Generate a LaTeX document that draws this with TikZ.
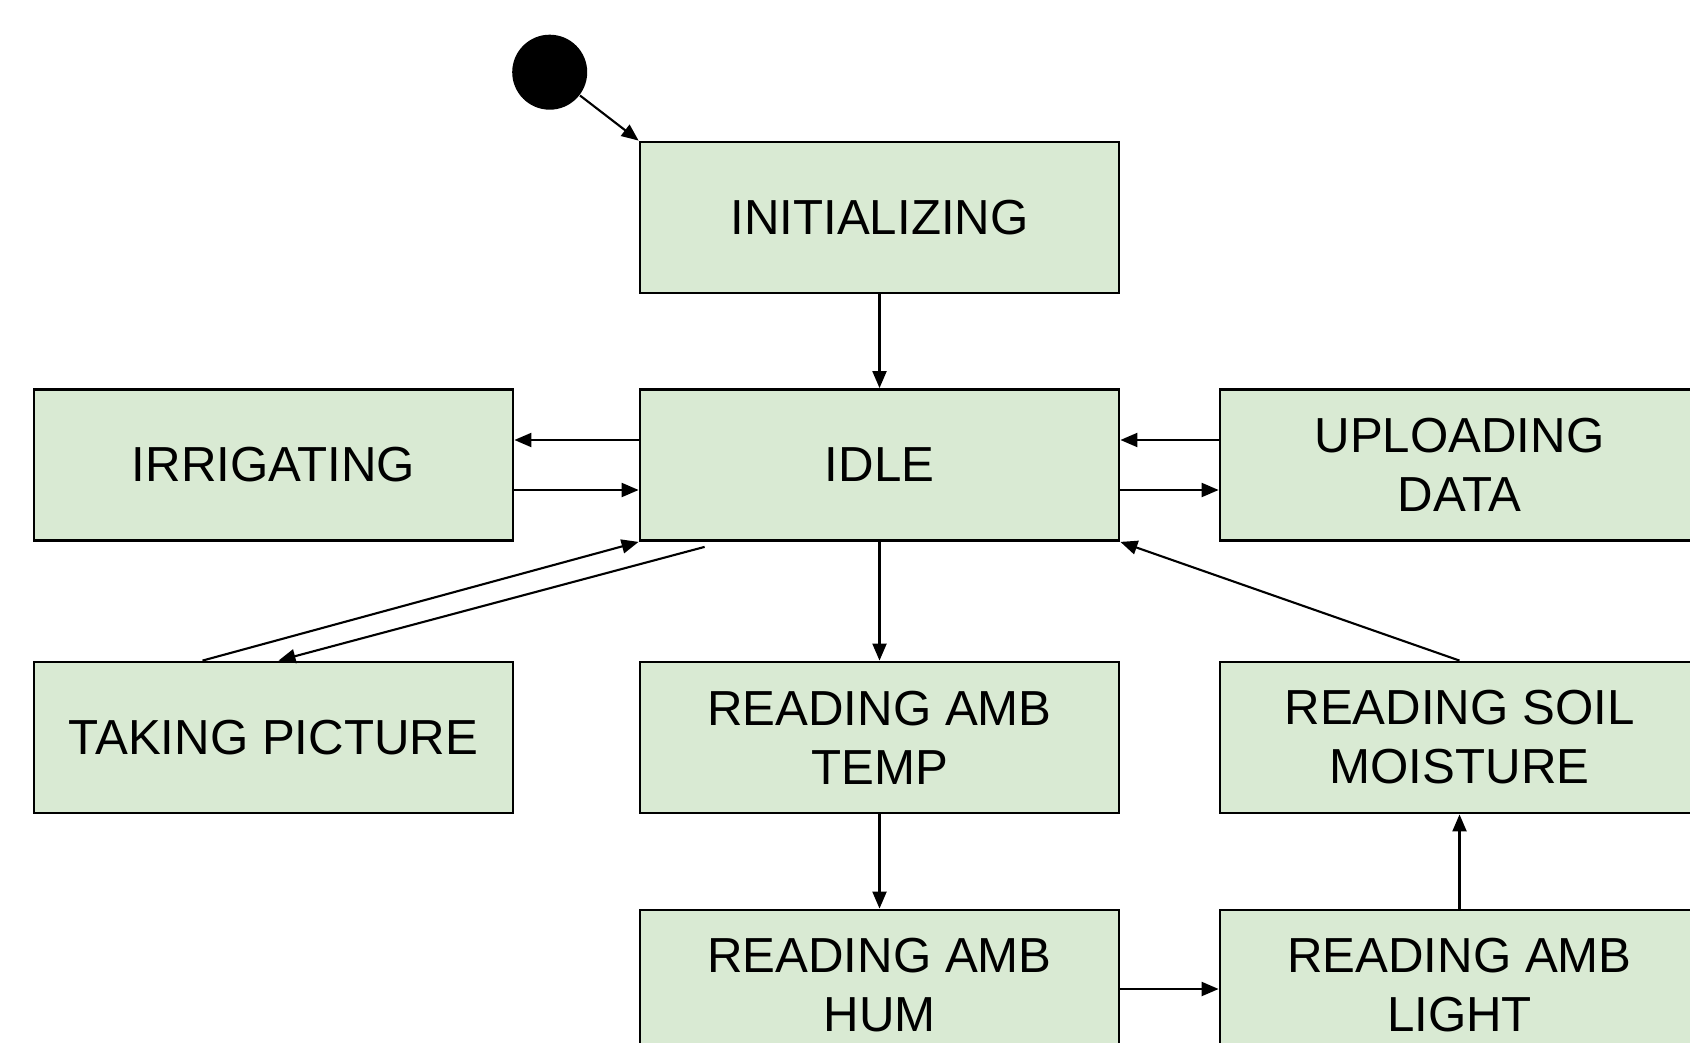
\documentclass[tikz,border=0pt]{standalone}
\usepackage{fontspec}
\setmainfont{Liberation Sans}
\usepackage{xcolor}
\usepackage{tikz}
\usetikzlibrary{arrows.meta,calc}
\definecolor{stategreen}{HTML}{D9EAD3}

\begin{document}
\begin{tikzpicture}[
    state/.style={draw, line width=0.8pt, fill=stategreen, minimum width=4.79cm, minimum height=1.51cm, inner sep=0pt, align=center, font=\fontsize{14}{16.8}\selectfont},
    init/.style={circle, fill=black, minimum size=0.75cm, inner sep=0pt},
    arr/.style={-{Triangle[length=1.7mm, width=1.4mm]}, line width=0.6pt},
]
    \useasboundingbox (0,0) rectangle (16.9,-10.43);
    \clip (0,0) rectangle (16.9,-10.43);

    % Start point
    \node[init] (start) at (5.497, -0.722) {};

    % States
    \node[state] (initializing) at (8.795, -2.175) {INITIALIZING};
    \node[state] (idle) at (8.795, -4.65) {IDLE};
    \node[state] (irrigating) at (2.735, -4.65) {IRRIGATING};
    \node[state] (uploading) at (14.595, -4.65) {UPLOADING\\DATA};
    \node[state] (picture) at (2.735, -7.375) {TAKING PICTURE};
    \node[state] (ambtemp) at (8.795, -7.375) {READING AMB\\TEMP};
    \node[state] (soil) at (14.595, -7.375) {READING SOIL\\MOISTURE};
    \node[state] (ambhum) at (8.795, -9.855) {READING AMB\\HUM};
    \node[state] (ambbright) at (14.595, -9.855) {READING AMB\\LIGHT};

    % Transitions
    \draw[arr] (start) -- (initializing.north west);
    \draw[arr] (initializing) -- (idle);
    \draw[arr] ($(idle.west)+(0,0.25)$) -- ($(irrigating.east)+(0,0.25)$);
    \draw[arr] ($(irrigating.east)+(0,-0.25)$) -- ($(idle.west)+(0,-0.25)$);
    \draw[arr] ($(uploading.west)+(0,0.25)$) -- ($(idle.east)+(0,0.25)$);
    \draw[arr] ($(idle.east)+(0,-0.25)$) -- ($(uploading.west)+(0,-0.25)$);
    \draw[arr] ($(idle.south west)+(0.66,-0.05)$) -- ($(picture.north)+(0.05,0)$);
    \draw[arr] ($(picture.north)+(-0.71,0)$) -- (idle.south west);
    \draw[arr] (idle) -- (ambtemp);
    \draw[arr] (soil.north) -- (idle.south east);
    \draw[arr] (ambtemp) -- (ambhum);
    \draw[arr] (ambhum.east |- 0,-9.89) -- (ambbright.west |- 0,-9.89);
    \draw[arr] (ambbright) -- (soil);
\end{tikzpicture}
\end{document}
